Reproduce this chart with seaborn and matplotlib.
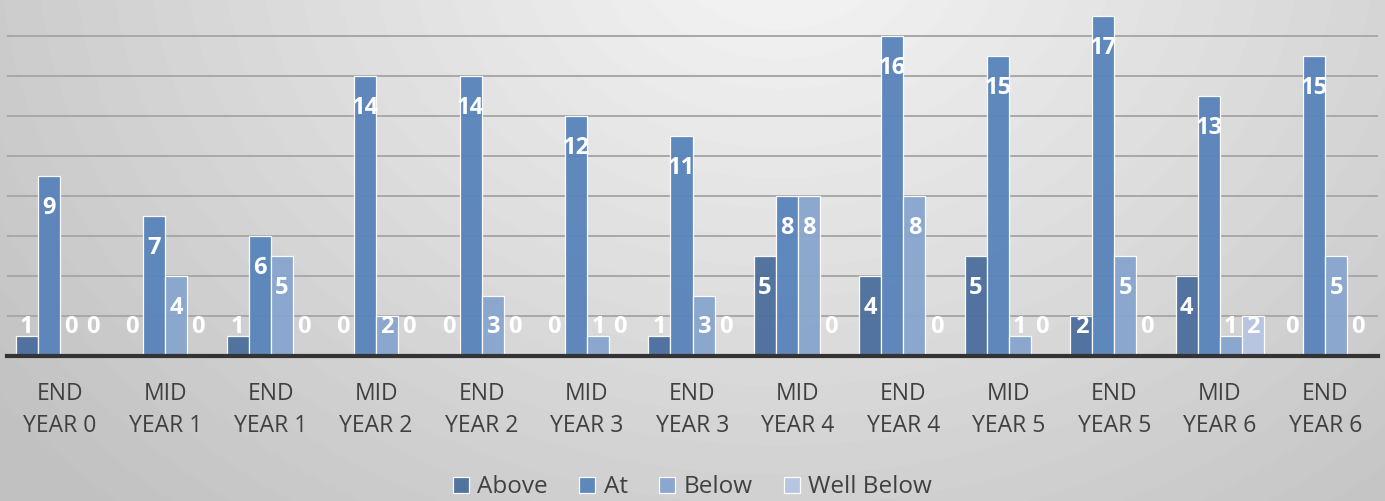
import numpy as np
import pandas as pd
import seaborn as sns
import matplotlib.pyplot as plt

# values
periods = ['END\nYEAR 0', 'MID\nYEAR 1', 'END\nYEAR 1', 'MID\nYEAR 2', 'END\nYEAR 2',
           'MID\nYEAR 3', 'END\nYEAR 3', 'MID\nYEAR 4', 'END\nYEAR 4', 'MID\nYEAR 5',
           'END\nYEAR 5', 'MID\nYEAR 6', 'END\nYEAR 6']
above = [1, 0, 1, 0, 0, 0, 1, 5, 4, 5, 2, 4, 0]
at = [9, 7, 6, 14, 14, 12, 11, 8, 16, 15, 17, 13, 15]
below = [0, 4, 5, 2, 3, 1, 3, 8, 8, 1, 5, 1, 5]
well_below = [0, 0, 0, 0, 0, 0, 0, 0, 0, 0, 0, 2, 0]
levels = ['Above', 'At', 'Below', 'Well Below']
colors = ['#4b6e9c', '#5883bb', '#88a5cd', '#b6c5e2']

df = pd.DataFrame({'period': periods, 'Above': above, 'At': at,
                   'Below': below, 'Well Below': well_below})
long = df.melt(id_vars='period', var_name='level', value_name='count')

sns.set_style('white')
plt.rcParams['font.family'] = ['Open Sans', 'DejaVu Sans']

fig = plt.figure(figsize=(13.85, 5.01), dpi=100)

# radial grey background
bg = fig.add_axes([0, 0, 1, 1], zorder=-10)
yy, xx = np.mgrid[0:501, 0:1385]
r = np.sqrt((xx - 780) ** 2 + ((yy + 60) * 1.25) ** 2)
shade = np.clip(0.965 - 0.2 * (r / 950), 0.76, 0.97)
bg.imshow(shade, cmap='gray', vmin=0, vmax=1, aspect='auto', extent=[0, 1, 0, 1])
bg.axis('off')

ax = fig.add_axes([7 / 1385, 1 - 355.7 / 501, 1371 / 1385, 355.7 / 501])
ax.patch.set_alpha(0)
sns.barplot(data=long, x='period', y='count', hue='level', hue_order=levels,
            palette=colors, saturation=1, width=0.835, gap=0, alpha=0.95,
            edgecolor=(1, 1, 1, 0.45), linewidth=0.9, errorbar=None, ax=ax, zorder=3)

for cont in ax.containers:
    for bar in cont:
        v = bar.get_height()
        ax.text(bar.get_x() + bar.get_width() / 2, max(v - 1.6, 1.45), f'{v:.0f}',
                ha='center', va='center', color='white', fontsize=17,
                fontweight='bold', zorder=5)

ax.set_ylim(0, 17.8)
ax.set_xlim(-0.5, len(periods) - 0.5)
ax.set_yticks(np.arange(2, 17, 2))
ax.set_yticklabels([])
ax.yaxis.grid(True, color='#a8a8a8', linewidth=1.4, zorder=0)
ax.set_axisbelow(True)
ax.set_xlabel('')
ax.set_ylabel('')
for s in ['top', 'left', 'right']:
    ax.spines[s].set_visible(False)
ax.spines['bottom'].set_color('#333333')
ax.spines['bottom'].set_linewidth(3)
ax.spines['bottom'].set_zorder(6)
ax.tick_params(axis='x', length=0, pad=19, labelsize=16.5, labelcolor='#404040')
ax.tick_params(axis='y', length=0)
for t in ax.get_xticklabels():
    t.set_linespacing(1.45)

handles, labels = ax.get_legend_handles_labels()
ax.get_legend().remove()
fig.legend(handles, labels, loc='lower center', bbox_to_anchor=(0.5, -0.04), ncol=4,
           frameon=False, fontsize=17.5, handlelength=0.65, handleheight=0.65,
           handletextpad=0.35, columnspacing=1.3, labelcolor='#404040')

fig.savefig('out.png', dpi=100)
